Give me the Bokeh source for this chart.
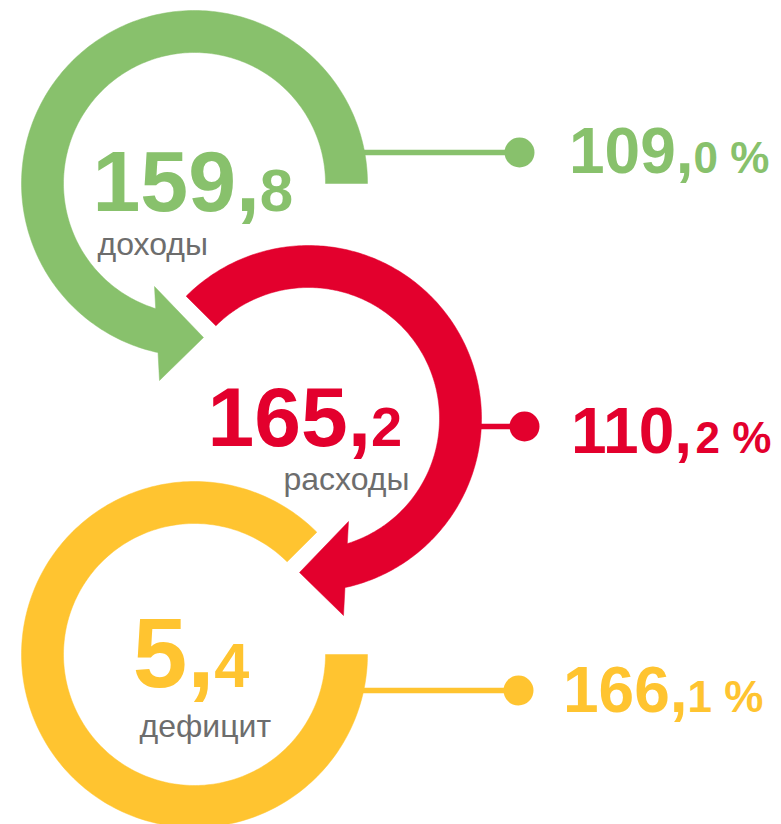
import numpy as np
from bokeh.plotting import figure
from bokeh.models import Range1d
from bokeh.embed import file_html
from bokeh.resources import INLINE
from bokeh.core.properties import value

# ---- data ----
categories = ["доходы", "расходы", "дефицит"]
amounts = [159.8, 165.2, 5.4]
percents = [109.0, 110.2, 166.1]
colors = ["#88C16C", "#E3002D", "#FFC430"]
label_color = "#6D6D6D"

# ---- layout (screen pixel coordinates) ----
W, H = 781, 824
ring_centers = [(194, 183), (308, 418), (194, 654)]
R_OUT, R_IN = 173, 131
# arrow head (relative to ring centre) for the first ring; second ring is mirrored
ARROW_B1 = (-40.0, 103.0)
ARROW_B2 = (-35.0, 197.0)
ARROW_T = (9.0, 154.0)

value_pos = [(98, 212), (213, 447), (139, 688)]      # ink-left, baseline
value_big_sizes = [86, 84, 98]
value_small_sizes = [60, 56, 63]
label_pos = [(97, 255), (283, 490), (139, 737)]
label_size = 32
conn_y = [152, 426, 690]
dot_x = [519, 524, 518]
pct_pos = [(573, 173), (575, 453), (567, 712)]
pct_big_size, pct_small_size = 64, 44
BASE_FIX = 0.36   # empirical baseline correction (fraction of font size)

CHW = {",": 0.278, " ": 0.278, "%": 0.889}


def text_width(s, size):
    return sum(CHW.get(c, 0.556) for c in s) * size


def arc_pts(cx, cy, rad, a0, a1, n=240):
    a = np.radians(np.linspace(a0, a1, n))
    return list(cx + rad * np.cos(a)), list(cy + rad * np.sin(a))


def base_hit(b1, b2, rad):
    d = (b2[0] - b1[0], b2[1] - b1[1])
    A = d[0] ** 2 + d[1] ** 2
    B = 2 * (b1[0] * d[0] + b1[1] * d[1])
    C = b1[0] ** 2 + b1[1] ** 2 - rad ** 2
    t = (-B + np.sqrt(B * B - 4 * A * C)) / (2 * A)
    return (b1[0] + t * d[0], b1[1] + t * d[1])


def arrow_ring(cx, cy, a_start, b1, b2, tip):
    po = base_hit(b1, b2, R_OUT)
    pi = base_hit(b1, b2, R_IN)
    ao = np.degrees(np.arctan2(po[1], po[0]))
    ai = np.degrees(np.arctan2(pi[1], pi[0]))
    if b1[0] < 0:
        while ao > a_start:
            ao -= 360
        while ai > a_start:
            ai -= 360
    else:
        while ao < a_start:
            ao += 360
        while ai < a_start:
            ai += 360
    xo, yo = arc_pts(cx, cy, R_OUT, a_start, ao)
    xi, yi = arc_pts(cx, cy, R_IN, ai, a_start)
    xs = xo + [cx + b2[0], cx + tip[0], cx + b1[0]] + xi
    ys = yo + [cy + b2[1], cy + tip[1], cy + b1[1]] + yi
    return xs, ys


def plain_ring(cx, cy, a0, a1):
    xo, yo = arc_pts(cx, cy, R_OUT, a0, a1)
    xi, yi = arc_pts(cx, cy, R_IN, a1, a0)
    return xo + xi, yo + yi


p = figure(width=W, height=H, x_range=Range1d(0, W), y_range=Range1d(H, 0),
           output_backend="svg", toolbar_location=None, x_axis_type=None, y_axis_type=None,
           min_border=0, outline_line_color=None, background_fill_color="white",
           border_fill_color="white")
p.grid.visible = False

# connectors (under the rings)
for i in range(3):
    cx, cy = ring_centers[i]
    p.line([cx + (R_OUT + R_IN) / 2, dot_x[i]], [conn_y[i], conn_y[i]],
           line_color=colors[i], line_width=5.5)
    p.scatter([dot_x[i]], [conn_y[i]], size=30, marker="circle",
              fill_color=colors[i], line_color=None)

# rings
gx, gy = arrow_ring(*ring_centers[0], 0.0, ARROW_B1, ARROW_B2, ARROW_T)
mb1 = (-ARROW_B1[0], ARROW_B1[1])
mb2 = (-ARROW_B2[0], ARROW_B2[1])
mt = (-ARROW_T[0], ARROW_T[1])
rx, ry = arrow_ring(*ring_centers[1], -135.0, mb1, mb2, mt)
yx, yy = plain_ring(*ring_centers[2], -45.0, -360.0)
for xs, ys, c in [(gx, gy, colors[0]), (rx, ry, colors[1]), (yx, yy, colors[2])]:
    p.patch(xs, ys, fill_color=c, line_color=c, line_width=0.5)

FONT = value("Liberation Sans")


def put_text(x, y, s, size, color, bold):
    p.text([x], [y - BASE_FIX * size], text=[s], text_font=FONT,
           text_font_style="bold" if bold else "normal",
           text_font_size=f"{size}px", text_color=color,
           text_align="left", text_baseline="alphabetic")


def two_part(x_ink, y, big, small, s_big, s_small, color):
    x0 = x_ink - 0.07 * s_big
    put_text(x0, y, big, s_big, color, True)
    put_text(x0 + text_width(big, s_big), y, small, s_small, color, True)


for i in range(3):
    ip, fp = f"{amounts[i]:.1f}".split(".")
    two_part(value_pos[i][0], value_pos[i][1], ip + ",", fp,
             value_big_sizes[i], value_small_sizes[i], colors[i])
    ip, fp = f"{percents[i]:.1f}".split(".")
    two_part(pct_pos[i][0], pct_pos[i][1], ip + ",", fp + " %",
             pct_big_size, pct_small_size, colors[i])
    put_text(label_pos[i][0], label_pos[i][1], categories[i], label_size, label_color, False)

open("out.html", "w").write(file_html(p, INLINE))
